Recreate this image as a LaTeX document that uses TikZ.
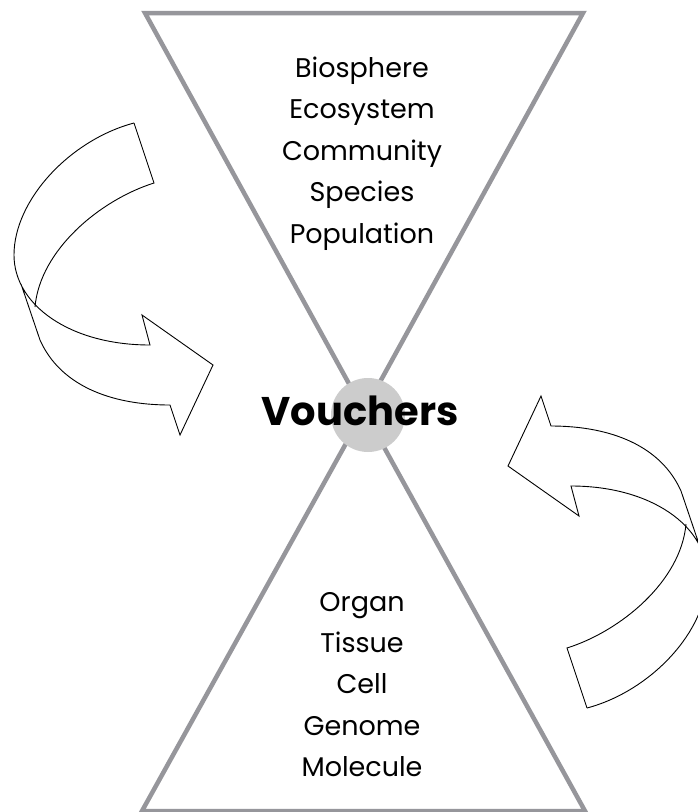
\documentclass[tikz,border=0pt]{standalone}
\usepackage{fontspec}
\setmainfont{Poppins}
\definecolor{funnelgray}{RGB}{150,150,155}
\definecolor{hubgray}{RGB}{204,204,204}
\tikzset{
  funnel/.style={draw=funnelgray, line width=4.5pt},
  arrowline/.style={draw=black, line width=0.9pt},
  level/.style={anchor=base, inner sep=0pt, font=\fontsize{27}{32}\selectfont},
  twistarrow/.pic={
    \draw[arrowline] (134,123) .. controls (70,140) and (14,200) .. (14,255)
      .. controls (14,305) and (70,345) .. (150,345) -- (142,315) -- (213,365)
      -- (180,435) -- (170,405) .. controls (110,405) and (60,385) .. (40,340) -- (21,284);
    \draw[arrowline] (134,123) -- (154,183) .. controls (100,200) and (40,250) .. (35,307);
  }
}
\begin{document}
\begin{tikzpicture}[x=1pt, y=-1pt]
  \useasboundingbox (0,0) rectangle (698,812);
  \clip (0,0) rectangle (698,812);
  \fill[white] (0,0) rectangle (698,812);

  % upper and lower funnels
  \draw[funnel] (145,13) -- (583,13) -- (364,411) -- cycle;
  \draw[funnel] (142,811) -- (585,811) -- (364,411) -- cycle;

  % centre
  \node[circle, fill=hubgray, minimum size=74pt, inner sep=0pt] (hub) at (368,415) {};
  \node[font=\fontsize{40}{46}\selectfont\bfseries, inner sep=0pt] (vouchers) at (360,411) {Vouchers};

  % upper levels
  \node[level] (biosphere) at (362,77) {Biosphere};
  \node[level] (ecosystem) at (362,118.5) {Ecosystem};
  \node[level] (community) at (362,160) {Community};
  \node[level] (species) at (362,201.5) {Species};
  \node[level] (population) at (362,243) {Population};

  % lower levels
  \node[level] (organ) at (362,611) {Organ};
  \node[level] (tissue) at (362,652) {Tissue};
  \node[level] (cell) at (362,693) {Cell};
  \node[level] (genome) at (362,735) {Genome};
  \node[level] (molecule) at (362,776) {Molecule};

  % turning arrows
  \pic at (0,0) {twistarrow};
  \pic[rotate=180] at (721,831) {twistarrow};
\end{tikzpicture}
\end{document}
